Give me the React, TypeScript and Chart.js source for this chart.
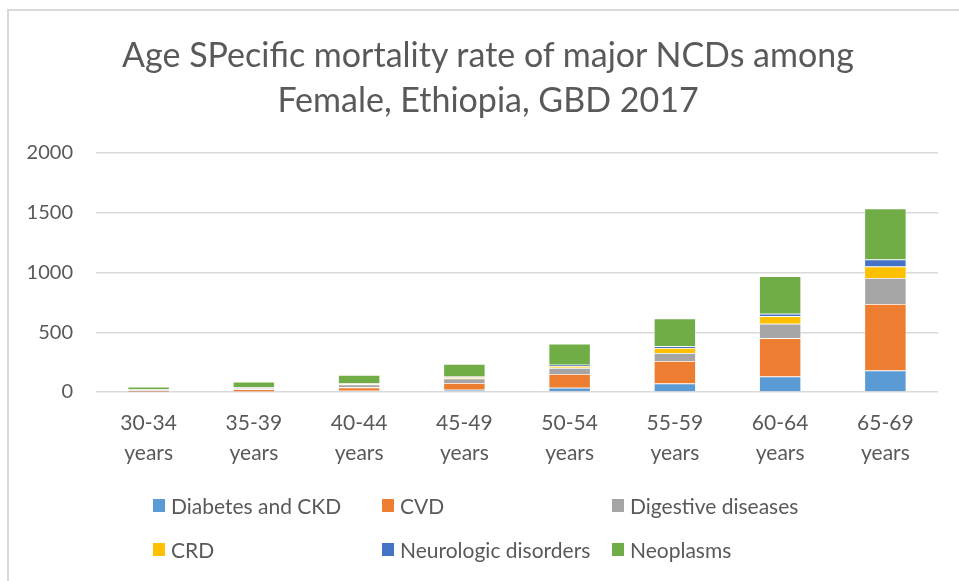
import React, { useEffect, useRef } from "react";
import { Chart, registerables } from "chart.js";

Chart.register(...registerables);

const FONT = "Lato, 'Open Sans', sans-serif";
const TEXT = "#595959";

const categories = [
  ["30-34", "years"],
  ["35-39", "years"],
  ["40-44", "years"],
  ["45-49", "years"],
  ["50-54", "years"],
  ["55-59", "years"],
  ["60-64", "years"],
  ["65-69", "years"],
];

const diabetesCKD = [3, 5, 10, 18, 35, 72, 130, 180];
const cvd = [10, 18, 29, 58, 116, 188, 320, 556];
const digestive = [6, 10, 25, 37, 51, 67, 121, 219];
const crd = [2, 3, 8, 11, 16, 42, 64, 95];
const neurologic = [2, 3, 4, 6, 10, 14, 20, 59];
const neoplasms = [22, 48, 67, 105, 177, 233, 314, 426];

const yTicks = [0, 500, 1000, 1500, 2000];

const seriesNames = ["Diabetes and CKD", "CVD", "Digestive diseases", "CRD", "Neurologic disorders", "Neoplasms"];
const seriesColors = ["#5B9BD5", "#ED7D31", "#A5A5A5", "#FFC000", "#4472C4", "#70AD47"];
const seriesData = [diabetesCKD, cvd, digestive, crd, neurologic, neoplasms];

const title = ["Age SPecific mortality rate of major NCDs among", "Female, Ethiopia, GBD 2017"];

export default function App() {
  const ref = useRef<HTMLCanvasElement>(null);

  useEffect(() => {
    document.body.style.margin = "0";
    const chart = new Chart(ref.current!, {
      type: "bar",
      data: {
        labels: categories,
        datasets: seriesNames.map((name, i) => ({
          label: name,
          data: seriesData[i],
          backgroundColor: seriesColors[i],
          borderColor: "rgba(255,255,255,0.6)",
          borderWidth: 0.8,
          categoryPercentage: 1,
          barPercentage: 0.4,
        })),
      },
      options: {
        animation: false,
        responsive: false,
        maintainAspectRatio: false,
        layout: { padding: { left: 0, right: 21, top: 153, bottom: 0 } },
        plugins: {
          legend: { display: false },
          title: { display: false },
          tooltip: { enabled: false },
        },
        scales: {
          x: {
            stacked: true,
            grid: { display: false },
            border: { display: false },
            ticks: {
              color: TEXT,
              font: { family: FONT, size: 21, lineHeight: 1.4 },
              padding: 9,
              maxRotation: 0,
              autoSkip: false,
            },
            afterFit: (s: any) => {
              s.height = 189;
            },
          },
          y: {
            stacked: true,
            min: 0,
            max: 2000,
            afterBuildTicks: (s: any) => {
              s.ticks = yTicks.map((v) => ({ value: v }));
            },
            ticks: {
              color: TEXT,
              font: { family: FONT, size: 20 },
              padding: 23,
              callback: (v: any) => String(v),
            },
            grid: { color: "#d9d9d9", lineWidth: 1.5, drawTicks: false },
            border: { display: false },
            afterFit: (s: any) => {
              s.width = 96;
            },
          },
        },
      },
    });
    return () => chart.destroy();
  }, []);

  const cols = [153, 382, 612];
  const rows = [505, 549];

  return (
    <div style={{ position: "fixed", left: 0, top: 0, width: 959, height: 581, overflow: "hidden", background: "#fff", fontFamily: FONT }}>
      <div style={{ position: "absolute", left: 7, top: 9, width: 1000, height: 1000, borderTop: "2px solid #d9d9d9", borderLeft: "2px solid #d9d9d9" }} />
      <canvas ref={ref} width={959} height={581} style={{ position: "absolute", left: 0, top: 0, width: 959, height: 581 }} />
      <div style={{ position: "absolute", left: 0, top: 31, width: 976, textAlign: "center", color: TEXT, fontSize: 34, lineHeight: "45px" }}>
        {title.map((t) => (
          <div key={t}>{t}</div>
        ))}
      </div>
      {seriesNames.map((name, i) => {
        const left = cols[i % 3];
        const cy = rows[Math.floor(i / 3)];
        return (
          <div key={name} style={{ position: "absolute", left, top: cy - 14, height: 28, display: "flex", alignItems: "center", color: TEXT, fontSize: 21, whiteSpace: "nowrap" }}>
            <span style={{ display: "inline-block", width: 12, height: 13, background: seriesColors[i], marginRight: 6 }} />
            <span>{name}</span>
          </div>
        );
      })}
    </div>
  );
}
